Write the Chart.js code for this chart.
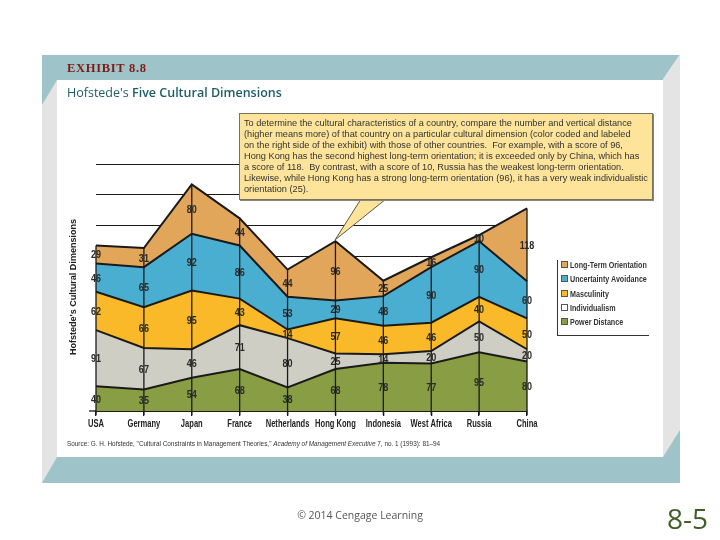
<!DOCTYPE html>
<html>
<head>
<meta charset="utf-8">
<script src="https://cdn.jsdelivr.net/npm/chart.js@4.4.1/dist/chart.umd.min.js"></script>
<style>
  html, body { margin: 0; padding: 0; background: #fff; }
  #page { position: relative; width: 720px; height: 540px; overflow: hidden; }
  .abs { position: absolute; }
  #teal { left: 42px; top: 55px; width: 638px; height: 428px; background: #9ec4c9; }
  #greyL { left: 42px; top: 80px; width: 15px; height: 403px; background: #e4e4e4;
           clip-path: polygon(0 25px, 15px 0, 15px 377px, 0 403px); }
  #greyR { left: 663px; top: 54px; width: 17px; height: 403px; background: #e4e4e4;
           clip-path: polygon(0 25px, 17px 0, 17px 376px, 0 403px); }
  #panel { left: 57px; top: 80px; width: 606px; height: 377px; background: #fff; }
  #chart { position: absolute; left: 0; top: 0; z-index: 2; }
  .over { z-index: 3; }
  #exhibit { left: 67px; top: 61px; font: bold 12.5px "Liberation Serif", serif; letter-spacing: 0.7px; color: #7b1b14; }
  #title { left: 67px; top: 84px; font: 600 12.5px "Open Sans", sans-serif; color: #1d5e66; white-space: nowrap; }
  #title span { font-weight: 500; }
  #ytitle { left: 72px; top: 287px; transform: translate(-50%, -50%) rotate(-90deg) scaleX(0.95);
            font: bold 9.5px "Liberation Sans", sans-serif; color: #222; white-space: nowrap; }
  #callout { left: 239px; top: 113px; width: 414px; height: 87px; box-sizing: border-box;
             background: #fde49a; border: 1px solid #77735f; box-shadow: 1px 1px 0 #8a8672;
             padding: 4px 0 0 4px; font: 9.2px "Liberation Sans", sans-serif; line-height: 11px; color: #333; white-space: nowrap; }
  #arrow { left: 0; top: 0; }
  #legend { left: 557px; top: 260px; width: 91px; height: 75px; border-left: 1px solid #333; border-bottom: 1px solid #333; }
  .li { position: absolute; left: 3px; font: bold 8.5px "Liberation Sans", sans-serif; color: #333; white-space: nowrap; line-height: 10px; }
  .li i { display: inline-block; width: 5px; height: 5px; border: 1px solid #555; margin-right: 2px; vertical-align: 0px; }
  .li b { display: inline-block; transform: scaleX(0.84); transform-origin: 0 50%; }
  #source { left: 67px; top: 440px; font: 6.4px "Liberation Sans", sans-serif; color: #333; white-space: nowrap; }
  #copy { left: 0; width: 720px; top: 508px; text-align: center; font: 10.5px "Open Sans", sans-serif; color: #555; }
  #page85 { left: 667px; top: 499px; font: 28px "Open Sans", sans-serif; color: #3f5f27; }
</style>
</head>
<body>
<div id="page">
  <div id="teal" class="abs"></div>
  <div id="greyL" class="abs"></div>
  <div id="greyR" class="abs"></div>
  <div id="panel" class="abs"></div>
  <canvas id="chart" width="720" height="540"></canvas>
  <div id="exhibit" class="abs over">EXHIBIT 8.8</div>
  <div id="title" class="abs over"><span>Hofstede's</span> Five Cultural Dimensions</div>
  <div id="ytitle" class="abs over">Hofstede's Cultural Dimensions</div>
  <svg id="arrow" class="abs over" width="720" height="540">
    <polygon points="361,199 386,199 335,240" fill="#fde49a" stroke="#5a5648" stroke-width="1"/>
  </svg>
  <div id="callout" class="abs over">
    To determine the cultural characteristics of a country, compare the number and vertical distance<br>
    (higher means more) of that country on a particular cultural dimension (color coded and labeled<br>
    on the right side of the exhibit) with those of other countries.&nbsp; For example, with a score of 96,<br>
    Hong Kong has the second highest long-term orientation; it is exceeded only by China, which has<br>
    a score of 118.&nbsp; By contrast, with a score of 10, Russia has the weakest long-term orientation.<br>
    Likewise, while Hong Kong has a strong long-term orientation (96), it has a very weak individualistic<br>
    orientation (25).
  </div>
  <div id="legend" class="abs over"></div>
  <div id="source" class="abs over">Source: G. H. Hofstede, "Cultural Constraints in Management Theories," <i>Academy of Management Executive</i> 7, no. 1 (1993): 81–94</div>
  <div id="copy" class="abs over">© 2014 Cengage Learning</div>
  <div id="page85" class="abs over">8-5</div>
</div>
<script>
// countries along the x axis
var countries = ['USA', 'Germany', 'Japan', 'France', 'Netherlands', 'Hong Kong', 'Indonesia', 'West Africa', 'Russia', 'China'];

// scores, bottom layer first
var powerDistance = [40, 35, 54, 68, 38, 68, 78, 77, 95, 80];
var individualism = [91, 67, 46, 71, 80, 25, 14, 20, 50, 20];
var masculinity = [62, 66, 95, 43, 14, 57, 46, 46, 40, 50];
var uncertaintyAvoidance = [46, 65, 92, 86, 53, 29, 48, 90, 90, 60];
var longTermOrientation = [29, 31, 80, 44, 44, 96, 25, 16, 10, 118];

var seriesNames = ['Power Distance', 'Individualism', 'Masculinity', 'Uncertainty Avoidance', 'Long-Term Orientation'];
var seriesColors = ['#899d44', '#cecec4', '#fab928', '#4aaed0', '#e2a65b'];
var legendColors = ['#899d44', '#ffffff', '#fab928', '#4aaed0', '#e2a65b'];

var yMax = 400;
var yStep = 50;

var seriesData = [powerDistance, individualism, masculinity, uncertaintyAvoidance, longTermOrientation];

// legend, top entry = top layer
var legend = document.getElementById('legend');
for (var k = seriesNames.length - 1, row = 0; k >= 0; k--, row++) {
    var li = document.createElement('div');
    li.className = 'li';
    li.style.top = (row * 14.3) + 'px';
    li.innerHTML = '<i style="background:' + legendColors[k] + '"></i><b>' + seriesNames[k] + '</b>';
    legend.appendChild(li);
}

// condensed text: the narrow face is not installed, so squeeze a normal one
function narrowText(ctx, text, x, y, sx) {
    ctx.save();
    ctx.translate(x, y);
    ctx.scale(sx, 1);
    ctx.fillText(text, 0, 0);
    ctx.restore();
}

// vertical rules, the numbers inside each band, country names
var bandMarks = {
    id: 'bandMarks',
    afterDatasetsDraw: function(chart) {
        var ctx = chart.ctx;
        var xs = chart.scales.x;
        var ys = chart.scales.y;
        var sets = chart.data.datasets;
        var y0 = ys.getPixelForValue(0);
        ctx.save();
        ctx.strokeStyle = '#1a1a1a';
        ctx.lineWidth = 1.3;
        ctx.beginPath();
        ctx.moveTo(xs.left - 7, y0);
        ctx.lineTo(xs.left, y0);
        ctx.stroke();
        for (var i = 0; i < countries.length; i++) {
            var total = 0;
            for (var d = 0; d < sets.length; d++) total += sets[d].data[i];
            var x = xs.getPixelForValue(i);
            ctx.beginPath();
            ctx.moveTo(x, y0 + 4);
            ctx.lineTo(x, ys.getPixelForValue(total));
            ctx.stroke();
        }
        ctx.textAlign = 'center';
        ctx.textBaseline = 'middle';
        ctx.fillStyle = '#2a2a2a';
        ctx.font = 'bold 11px "Liberation Sans", sans-serif';
        for (var j = 0; j < countries.length; j++) {
            var base = 0;
            for (var s = 0; s < sets.length; s++) {
                var v = sets[s].data[j];
                narrowText(ctx, String(v), xs.getPixelForValue(j), ys.getPixelForValue(base + v / 2) + 1, 0.82);
                base += v;
            }
        }
        ctx.fillStyle = '#222';
        ctx.font = 'bold 10.5px "Liberation Sans", sans-serif';
        for (var c = 0; c < countries.length; c++) {
            narrowText(ctx, countries[c], xs.getPixelForValue(c), y0 + 13, 0.72);
        }
        ctx.restore();
    }
};

var datasets = [];
for (var n = 0; n < seriesData.length; n++) {
    datasets.push({
        label: seriesNames[n],
        data: seriesData[n],
        backgroundColor: seriesColors[n],
        borderColor: '#1a1a1a',
        borderWidth: 2,
        pointRadius: 0,
        tension: 0,
        fill: n === 0 ? 'origin' : '-1'
    });
}

new Chart(document.getElementById('chart'), {
    type: 'line',
    data: {
        labels: countries,
        datasets: datasets
    },
    options: {
        responsive: false,
        animation: false,
        devicePixelRatio: 1,
        layout: {
            padding: { left: 96, right: 193, top: 164, bottom: 107 }
        },
        plugins: {
            legend: { display: false },
            tooltip: { enabled: false }
        },
        scales: {
            x: {
                offset: false,
                afterFit: function(scale) { scale.height = 22; },
                grid: {
                    drawOnChartArea: false,
                    drawTicks: true,
                    tickLength: 5,
                    color: '#1a1a1a',
                    lineWidth: 1.3
                },
                border: { display: true, color: '#1a1a1a', width: 1.5 },
                ticks: { display: false, autoSkip: false }
            },
            y: {
                stacked: true,
                min: 0,
                max: yMax,
                afterFit: function(scale) { scale.width = 0; },
                ticks: { display: false, stepSize: yStep },
                grid: { color: '#1a1a1a', lineWidth: 1, drawTicks: false },
                border: { display: false }
            }
        }
    },
    plugins: [bandMarks]
});
</script>
</body>
</html>
